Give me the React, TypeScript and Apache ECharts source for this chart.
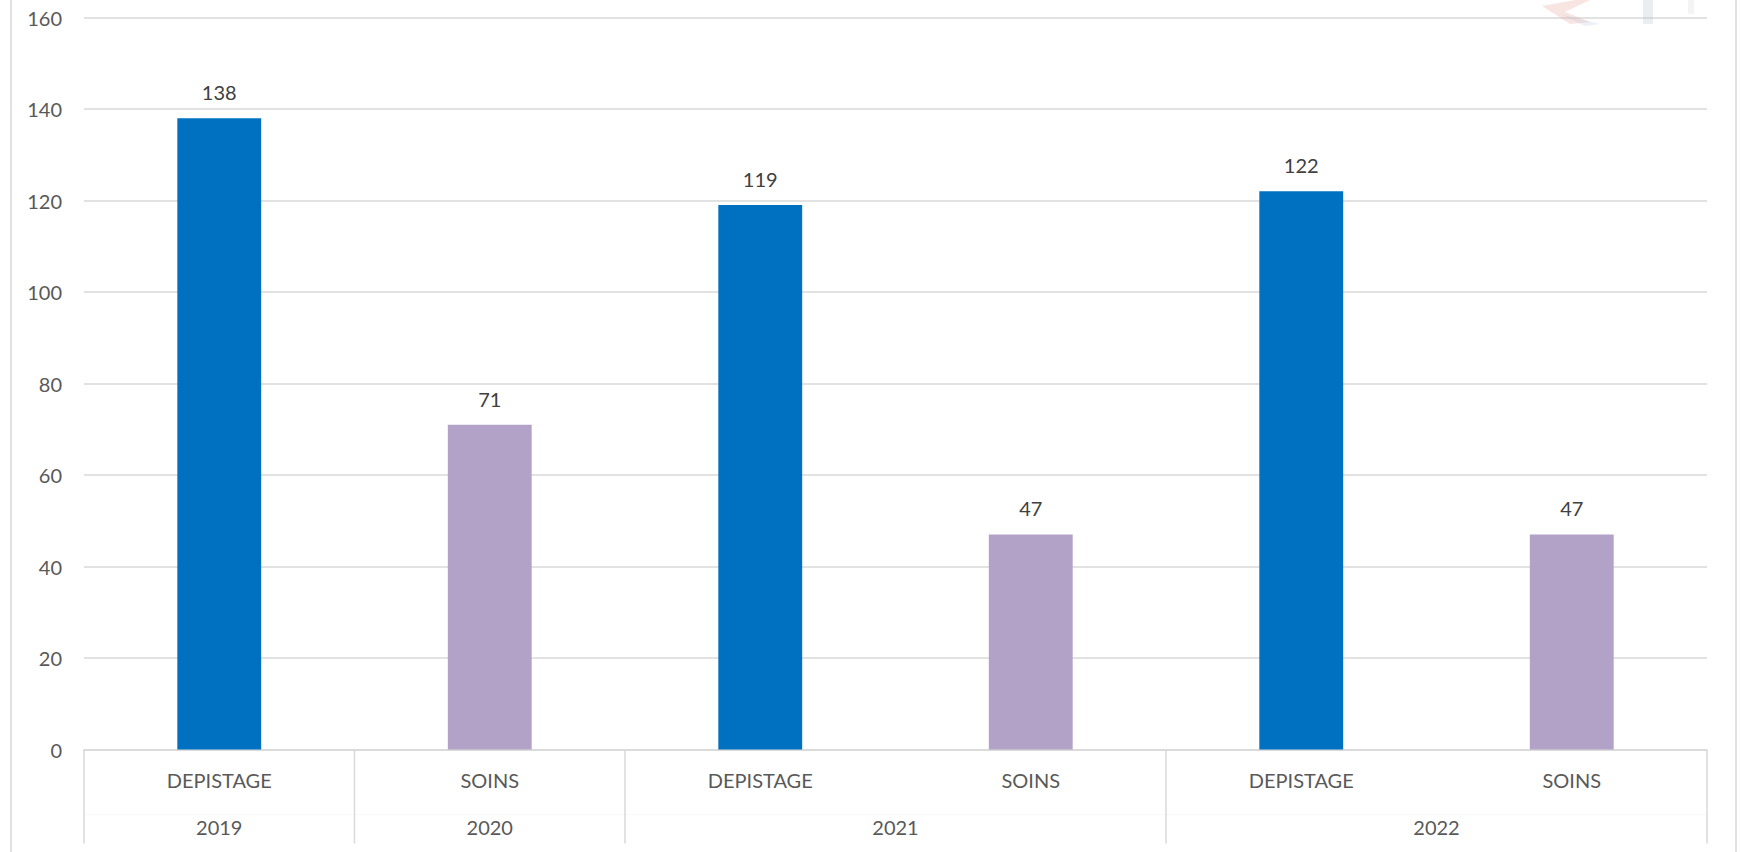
import React, { useEffect, useRef } from 'react';
import * as echarts from 'echarts';

const categories = ['DEPISTAGE', 'SOINS', 'DEPISTAGE', 'SOINS', 'DEPISTAGE', 'SOINS'];
const values = [138, 71, 119, 47, 122, 47];
const yearLabels = ['2019', '2020', '2021', '2022'];
const yearSpans = [1, 1, 2, 2];
const typeColors: Record<string, string> = { DEPISTAGE: '#0070C0', SOINS: '#B3A2C7' };
const yMin = 0;
const yMax = 160;
const yStep = 20;

const FONT = 'Lato, "Open Sans", sans-serif';
const GRID_COLOR = '#D9D9D9';
const TEXT_COLOR = '#595959';

export default function App() {
  const ref = useRef<HTMLDivElement>(null);
  useEffect(() => {
    const chart = echarts.init(ref.current!, null, { renderer: 'svg' });
    chart.setOption({
      animation: false,
      backgroundColor: '#ffffff',
      textStyle: { fontFamily: FONT },
      grid: { left: 84, right: 34, top: 17.5, bottom: 102.5, containLabel: false },
      xAxis: {
        type: 'category',
        data: categories,
        axisLine: { show: true, lineStyle: { color: GRID_COLOR, width: 1.5 } },
        axisTick: { show: false },
        axisLabel: { fontSize: 20, color: TEXT_COLOR, margin: 20, fontFamily: FONT },
      },
      yAxis: {
        type: 'value',
        min: yMin,
        max: yMax,
        interval: yStep,
        axisLine: { show: false },
        axisTick: { show: false },
        splitLine: { lineStyle: { color: GRID_COLOR, width: 1.5 } },
        axisLabel: { fontSize: 20, color: TEXT_COLOR, margin: 22, fontFamily: FONT },
      },
      series: [
        {
          type: 'bar',
          barWidth: '31%',
          data: values.map((v, i) => ({ value: v, itemStyle: { color: typeColors[categories[i]] } })),
          label: {
            show: true,
            position: 'top',
            distance: 16,
            fontSize: 20,
            color: '#404040',
            fontFamily: FONT,
          },
        },
      ],
    });

    const x0 = chart.convertToPixel({ xAxisIndex: 0 }, 0) as number;
    const x1 = chart.convertToPixel({ xAxisIndex: 0 }, 1) as number;
    const band = x1 - x0;
    const yBase = chart.convertToPixel({ yAxisIndex: 0 }, 0) as number;
    const boundary = (i: number) => x0 + (i - 0.5) * band;

    const graphics: any[] = [];
    const lineStyle = { stroke: GRID_COLOR, lineWidth: 1.5 };
    // outer frame
    graphics.push({ type: 'line', shape: { x1: 11, y1: 0, x2: 11, y2: 852 }, style: lineStyle, silent: true });
    graphics.push({ type: 'line', shape: { x1: 1736, y1: 0, x2: 1736, y2: 852 }, style: lineStyle, silent: true });
    // very faint row separator
    graphics.push({
      type: 'line',
      shape: { x1: boundary(0), y1: yBase + 65, x2: boundary(categories.length), y2: yBase + 65 },
      style: { stroke: '#F8F8F8', lineWidth: 1 },
      silent: true,
    });
    // group separators and year labels
    let start = 0;
    const bounds = [0];
    yearSpans.forEach((s) => {
      start += s;
      bounds.push(start);
    });
    bounds.forEach((b) => {
      const x = boundary(b);
      graphics.push({ type: 'line', shape: { x1: x, y1: yBase, x2: x, y2: yBase + 94 }, style: lineStyle, silent: true });
    });
    yearLabels.forEach((lab, i) => {
      const cx = (boundary(bounds[i]) + boundary(bounds[i + 1])) / 2;
      graphics.push({
        type: 'text',
        x: cx,
        y: yBase + 77,
        style: { text: lab, fontSize: 20, fill: TEXT_COLOR, fontFamily: FONT, align: 'center', verticalAlign: 'middle' },
        silent: true,
      });
    });
    // faint watermark fragment in the top-right corner
    graphics.push({
      type: 'polygon',
      shape: { points: [[1542, 6], [1575, 0], [1590, 0], [1565, 12], [1590, 22], [1570, 24]] },
      style: { fill: '#E8A8A0', opacity: 0.3 },
      silent: true,
    });
    graphics.push({
      type: 'polygon',
      shape: { points: [[1560, 14], [1600, 24], [1585, 26]] },
      style: { fill: '#B8C8E0', opacity: 0.25 },
      silent: true,
    });
    graphics.push({
      type: 'rect',
      shape: { x: 1643, y: 0, width: 10, height: 24 },
      style: { fill: '#B0B8C8', opacity: 0.25 },
      silent: true,
    });
    graphics.push({
      type: 'rect',
      shape: { x: 1688, y: 0, width: 6, height: 14 },
      style: { fill: '#C8C8C8', opacity: 0.2 },
      silent: true,
    });
    chart.setOption({ graphic: graphics });

    return () => chart.dispose();
  }, []);
  return <div ref={ref} style={{ position: 'absolute', left: 0, top: 0, width: 1741, height: 852 }} />;
}
